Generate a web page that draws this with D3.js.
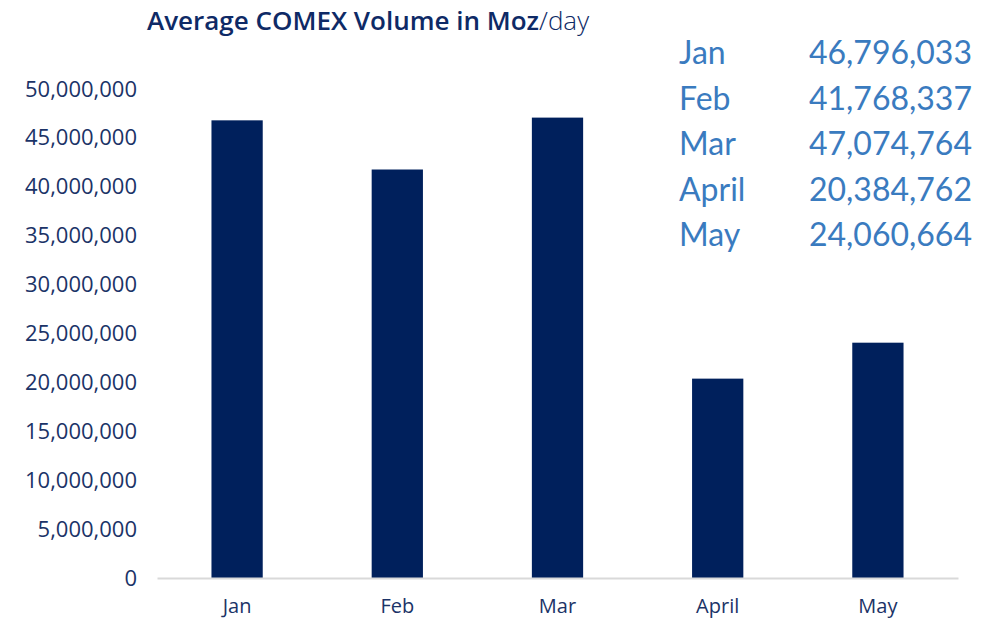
<!DOCTYPE html>
<html>
<head>
<meta charset="utf-8">
<script src="https://cdn.jsdelivr.net/npm/d3@7"></script>
<style>
  body { margin: 0; background: #fff; }
  svg { display: block; }
  .tick text { font-family: "Open Sans", "Noto Sans", sans-serif; }
</style>
</head>
<body>
<svg width="1002" height="620"></svg>
<script>
// data
const months = [ "Jan", "Feb", "Mar", "April", "May" ];
const volume = [ 46796033, 41768337, 47074764, 20384762, 24060664 ];
const yTicks = [ 0, 5e6, 10e6, 15e6, 20e6, 25e6, 30e6, 35e6, 40e6, 45e6, 50e6 ];

const svg = d3.select( "svg" );
const margin = { top: 89, left: 157, right: 44, bottom: 42 };
const w = 1002 - margin.left - margin.right,
      h = 620 - margin.top - margin.bottom;
const g = svg.append( "g" ).attr( "transform", `translate(${margin.left},${margin.top})` );

const x = d3.scaleBand().domain( months ).range( [ 0, w ] ).paddingInner( 0.68 ).paddingOuter( 0.34 );
const y = d3.scaleLinear().domain( [ 0, 50e6 ] ).range( [ h, 0 ] );
const fmt = d3.format( "," );

// y axis, labels only
const ay = g.append( "g" )
  .call( d3.axisLeft( y ).tickValues( yTicks ).tickFormat( fmt ).tickSize( 0 ).tickPadding( 20 ) );
ay.select( ".domain" ).remove();
ay.selectAll( "text" ).attr( "fill", "#1b3367" ).style( "font-size", "22px" );

// bars
g.selectAll( ".bar" )
  .data( months )
  .enter().append( "rect" )
  .attr( "class", "bar" )
  .attr( "x", d => x( d ) )
  .attr( "width", x.bandwidth() )
  .attr( "y", ( d, i ) => y( volume[i] ) )
  .attr( "height", ( d, i ) => h - y( volume[i] ) )
  .attr( "fill", "#00205c" );

// x axis
const ax = g.append( "g" )
  .attr( "transform", `translate(0,${h})` )
  .call( d3.axisBottom( x ).tickSize( 0 ).tickPadding( 21 ) );
ax.select( ".domain" ).attr( "stroke", "#d9d9d9" ).attr( "stroke-width", 2 );
ax.selectAll( "text" ).attr( "fill", "#1b3367" ).style( "font-size", "20px" );

// title
const title = svg.append( "text" )
  .attr( "x", 147 ).attr( "y", 30 )
  .attr( "fill", "#0e2a66" )
  .style( "font-family", "'Open Sans', Lato, sans-serif" )
  .style( "font-size", "26px" );
title.append( "tspan" ).style( "font-weight", "600" ).text( "Average COMEX Volume in Moz" );
title.append( "tspan" ).style( "font-weight", "300" ).text( "/day" );

// value table
const tbl = svg.append( "g" )
  .style( "font-family", "Lato, 'Open Sans', sans-serif" )
  .style( "font-size", "32px" )
  .attr( "fill", "#3a7bbf" );
const rowY = d3.scalePoint().domain( months ).range( [ 64, 246 ] );
tbl.selectAll( ".lab" ).data( months ).enter().append( "text" )
  .attr( "x", 679 ).attr( "y", d => rowY( d ) ).text( d => d );
tbl.selectAll( ".val" ).data( months ).enter().append( "text" )
  .attr( "x", 972 ).attr( "y", d => rowY( d ) ).attr( "text-anchor", "end" )
  .text( ( d, i ) => fmt( volume[i] ) );
</script>
</body>
</html>
